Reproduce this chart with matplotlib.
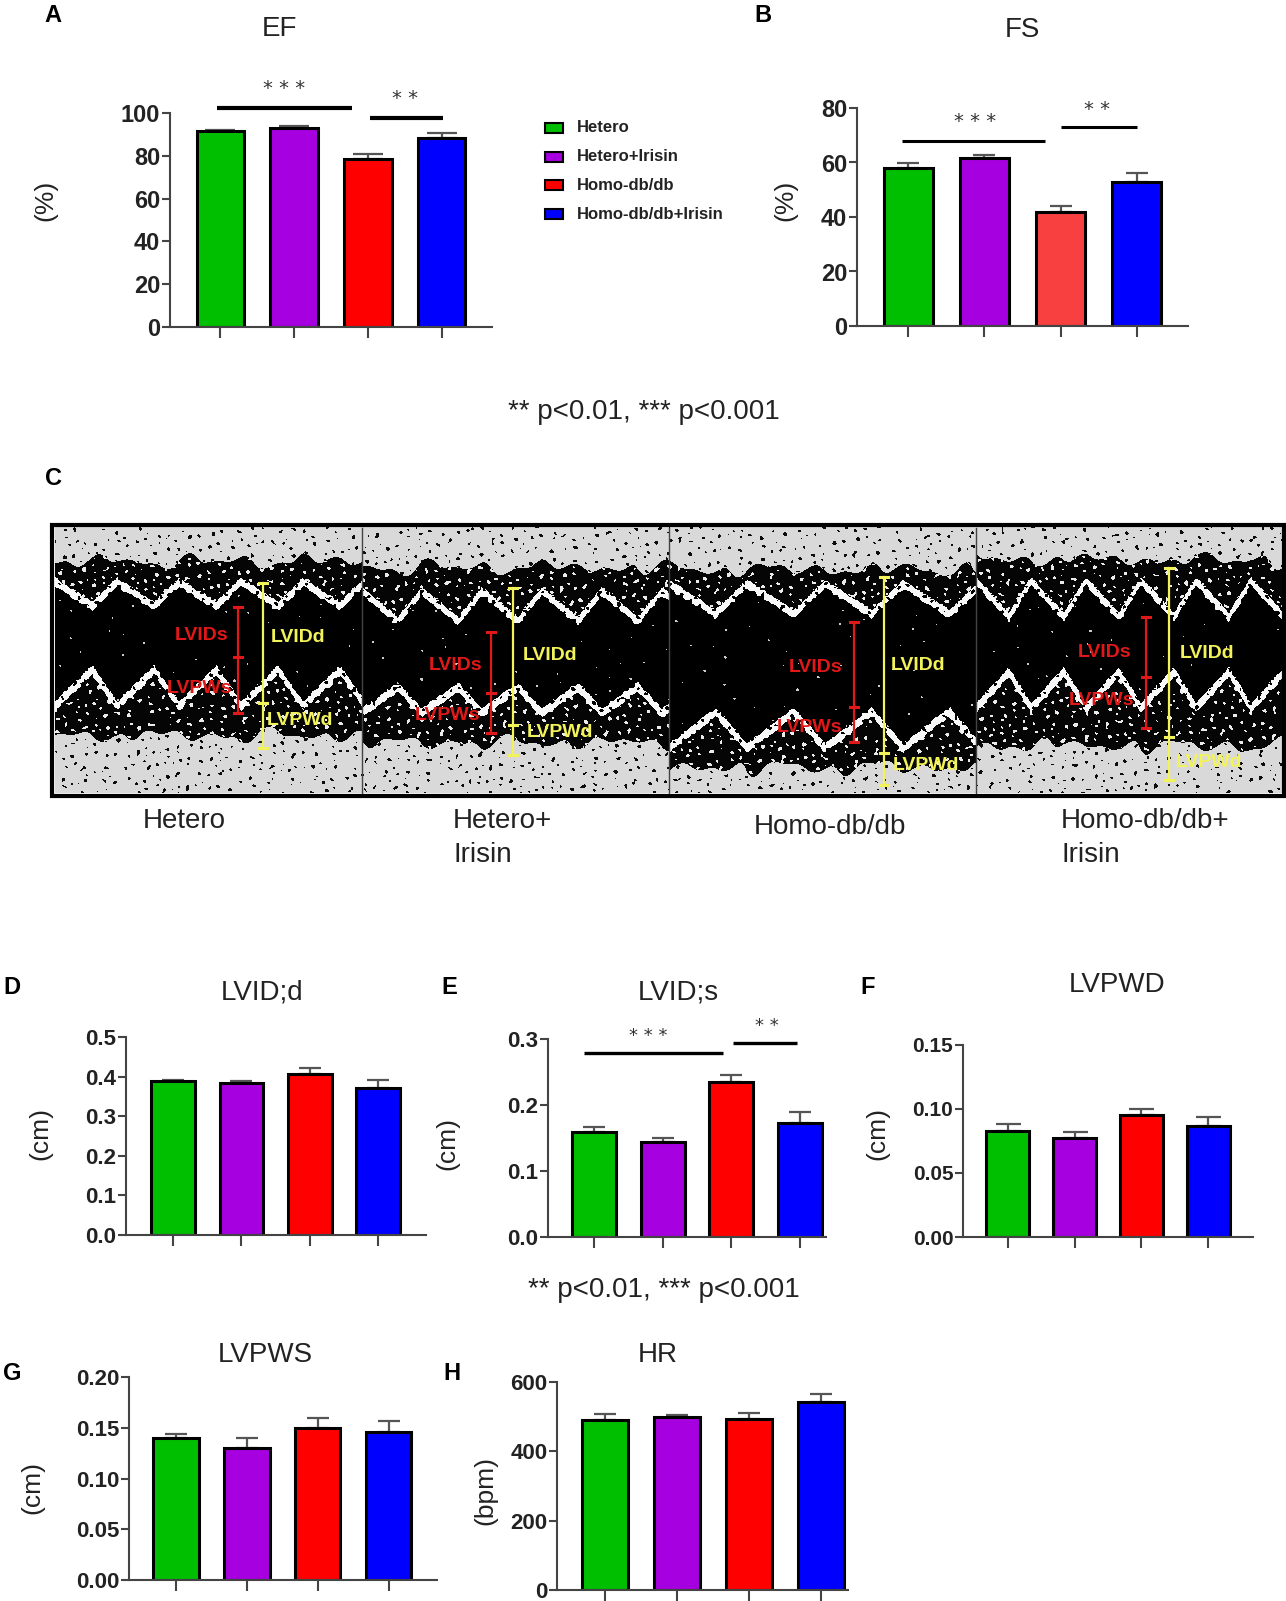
import numpy as np
import matplotlib
matplotlib.use("Agg")
import matplotlib.pyplot as plt
from matplotlib import font_manager as fm
from matplotlib.patches import Rectangle

# groups and colours
groups = ["Hetero", "Hetero+Irisin", "Homo-db/db", "Homo-db/db+Irisin"]
bar_colors = ["#00bf00", "#a600e0", "#ff0000", "#0000ff"]
fs_colors = ["#00bf00", "#a600e0", "#f84040", "#0000ff"]

# mean and sem
ef_mean = [91.5, 93.0, 78.5, 88.5]
ef_sem = [0.7, 0.8, 2.3, 2.0]
fs_mean = [58.0, 61.5, 42.0, 53.0]
fs_sem = [1.8, 1.2, 2.2, 3.0]
lvidd_mean = [0.388, 0.385, 0.407, 0.371]
lvidd_sem = [0.004, 0.003, 0.015, 0.020]
lvids_mean = [0.159, 0.144, 0.235, 0.172]
lvids_sem = [0.007, 0.006, 0.011, 0.018]
lvpwd_mean = [0.083, 0.077, 0.095, 0.087]
lvpwd_sem = [0.005, 0.005, 0.005, 0.007]
lvpws_mean = [0.140, 0.130, 0.150, 0.146]
lvpws_sem = [0.004, 0.010, 0.010, 0.011]
hr_mean = [490, 498, 493, 543]
hr_sem = [18, 7, 19, 22]

pnote = "** p<0.01, *** p<0.001"
echo_labels = [["Hetero"], ["Hetero+", "Irisin"], ["Homo-db/db"], ["Homo-db/db+", "Irisin"]]

W, H = 1286, 1601
fig = plt.figure(figsize=(W / 100, H / 100), dpi=100)


def has_font(name):
    try:
        fm.findfont(fm.FontProperties(family=name), fallback_to_default=False)
        return True
    except Exception:
        return False


SANS = "Liberation Sans" if has_font("Liberation Sans") else "DejaVu Sans"
NARROW = "Liberation Sans Narrow" if has_font("Liberation Sans Narrow") else SANS
TXT = "#222222"


def fx(x):
    return x / W


def fy(y):
    return 1 - y / H


def add_ax(left, right, top, bottom):
    return fig.add_axes([fx(left), fy(bottom), (right - left) / W, (bottom - top) / H])


def ftext(x, y, s, **kw):
    kw.setdefault("family", SANS)
    kw.setdefault("color", TXT)
    kw.setdefault("ha", "center")
    kw.setdefault("va", "center")
    fig.text(fx(x), fy(y), s, **kw)


def bar_panel(box, xlim, means, sems, cols, yticks, fmt, tick_size=15, cap=8):
    ax = add_ax(*box)
    x = np.arange(len(means))
    ax.errorbar(x, means, yerr=[np.zeros(len(sems)), sems], fmt="none",
                ecolor="#555555", elinewidth=1.6, capsize=cap, capthick=1.6, zorder=1)
    ax.bar(x, means, width=0.64, color=cols, edgecolor="black", linewidth=2.2, zorder=2)
    ax.set_xlim(*xlim)
    ax.set_ylim(yticks[0], yticks[-1])
    ax.set_yticks(yticks)
    ax.set_yticklabels([fmt.format(v) for v in yticks], family=SANS,
                       fontweight="bold", fontsize=tick_size, color=TXT)
    ax.set_xticks(x)
    ax.set_xticklabels([])
    ax.tick_params(axis="y", length=6, width=1.5, color="#444444", pad=1)
    ax.tick_params(axis="x", length=8, width=1.5, color="#444444")
    for s in ["top", "right"]:
        ax.spines[s].set_visible(False)
    for s in ["left", "bottom"]:
        ax.spines[s].set_linewidth(1.5)
        ax.spines[s].set_color("#444444")
    ax.patch.set_alpha(0)
    return ax


def sig(ax, x0, x1, y, lw, stars, sx, sy, size=14):
    ax.plot([x0, x1], [y, y], color="black", lw=lw, clip_on=False, solid_capstyle="butt")
    ax.text(sx, sy, stars, ha="center", va="center", fontsize=size, color="#333333",
            clip_on=False, family="DejaVu Sans")


# ---- A: EF
axA = bar_panel((170, 492, 113, 327), (-0.68, 3.68), ef_mean, ef_sem, bar_colors,
                [0, 20, 40, 60, 80, 100], "{:d}", tick_size=17, cap=11)
sig(axA, -0.05, 1.79, 102.3, 3.0, "* * *", 0.87, 111.5)
sig(axA, 2.03, 3.02, 97.7, 3.0, "* *", 2.5, 107)

# legend
for i, (g, c) in enumerate(zip(groups, bar_colors)):
    yc = 128 + i * 28.7
    fig.add_artist(Rectangle((fx(545), fy(yc + 5)), 18 / W, 10 / H, transform=fig.transFigure,
                             facecolor=c, edgecolor="black", lw=1.5))
    ftext(577, yc, g, ha="left", fontsize=12, fontweight="bold")

# ---- B: FS
axB = bar_panel((857, 1188, 108, 326), (-0.67, 3.67), fs_mean, fs_sem, fs_colors,
                [0, 20, 40, 60, 80], "{:d}", tick_size=17, cap=8)
sig(axB, -0.08, 1.8, 68, 2.2, "* * *", 0.88, 75)
sig(axB, 2.0, 3.0, 73, 2.2, "* *", 2.48, 79.5)

# ---- D..H
bar_panel((126, 426, 1037, 1235), (-0.69, 3.70), lvidd_mean, lvidd_sem, bar_colors,
          [0.0, 0.1, 0.2, 0.3, 0.4, 0.5], "{:.1f}", tick_size=16, cap=8)
axE = bar_panel((548, 826, 1039, 1237), (-0.67, 3.38), lvids_mean, lvids_sem, bar_colors,
                [0.0, 0.1, 0.2, 0.3], "{:.1f}", tick_size=16, cap=8)
sig(axE, -0.15, 1.88, 0.279, 2.4, "* * *", 0.79, 0.305, size=13)
sig(axE, 2.03, 2.96, 0.294, 2.4, "* *", 2.52, 0.319, size=13)
bar_panel((963, 1253, 1045, 1237), (-0.67, 3.67), lvpwd_mean, lvpwd_sem, bar_colors,
          [0.00, 0.05, 0.10, 0.15], "{:.2f}", tick_size=15, cap=9)
bar_panel((129, 437, 1377, 1580), (-0.66, 3.68), lvpws_mean, lvpws_sem, bar_colors,
          [0.00, 0.05, 0.10, 0.15, 0.20], "{:.2f}", tick_size=16, cap=8)
bar_panel((557, 848, 1382, 1590), (-0.67, 3.38), hr_mean, hr_sem, bar_colors,
          [0, 200, 400, 600], "{:d}", tick_size=16, cap=8)

# titles, letters, axis labels
for t, x, y in [("EF", 279, 29), ("FS", 1022, 30), ("LVID;d", 262, 992), ("LVID;s", 678, 992),
                ("LVPWD", 1117, 985), ("LVPWS", 265, 1355), ("HR", 658, 1355)]:
    ftext(x, y, t, fontsize=20)
for t, x, y in [("A", 53, 15), ("B", 763, 15), ("C", 53, 478), ("D", 12, 987), ("E", 449, 987),
                ("F", 868, 987), ("G", 12, 1373), ("H", 452, 1373)]:
    ftext(x, y, t, fontsize=17, fontweight="bold", color="black")
for t, x, y in [("(%)", 45, 200), ("(%)", 785, 200), ("(cm)", 40, 1133), ("(cm)", 447, 1143),
                ("(cm)", 877, 1133), ("(cm)", 32, 1487), ("(bpm)", 485, 1490)]:
    ftext(x, y, t, fontsize=19, rotation=90)
ftext(644, 412, pnote, fontsize=20)
ftext(664, 1290, pnote, fontsize=20)

# ---- C: M-mode echo picture (drawn texture, not data)
axC = add_ax(48, 1286, 521, 800)
axC.set_xlim(48, 1286)
axC.set_ylim(800, 521)
axC.axis("off")

xs = np.arange(55, 1282) + 0.5
ys = np.arange(528, 793) + 0.5
X, Y = np.meshgrid(xs, ys)
# speckle texture from many crossed waves
ang = [0.3, 1.1, 1.9, 2.6, 0.7, 2.2, 1.5, 2.9, 0.05, 1.35]
wav = [7.1, 9.3, 6.2, 11.7, 8.4, 5.6, 13.2, 7.9, 10.4, 6.7]
pha = [0.0, 1.3, 2.1, 0.4, 3.0, 1.7, 2.6, 0.9, 1.1, 2.4]
t1 = np.zeros(X.shape)
for a, wv, p in zip(ang, wav, pha):
    t1 += np.cos(2 * np.pi / wv * (X * np.cos(a) + Y * np.sin(a)) + p)
t1 /= len(ang)
t2 = (np.sin(0.13 * X + 0.07 * Y) + np.sin(0.057 * X - 0.11 * Y + 1) + np.sin(0.21 * X + 0.03 * Y + 2)) / 3
img = np.full(X.shape, 0.85)
img[t1 > 0.36] = 0.05

# x0, x1, period, upper line, amp, lower line, amp, top of wall, bottom of wall
segs = [(55, 362, 62, 595, 12, 688, 18, 560, 738),
        (362, 669, 60, 607, 15, 700, 13, 566, 745),
        (669, 976, 78, 600, 15, 730, 18, 568, 770),
        (976, 1282, 55, 600, 18, 690, 18, 558, 748)]
for x0, x1, per, cu, au, cl, al, top, bot in segs:
    m = (X >= x0) & (X < x1)
    ph = ((X - x0) / per) % 1.0
    w = np.where(ph < 0.6, ph / 0.6, (1 - ph) / 0.4)
    u = cu + au * (2 * w - 1)
    lo = cl - al * (2 * w - 1)
    jag = 9 * t2
    wall = m & (Y + jag > top + 5 * w) & (Y - jag < bot - 5 * w)
    img[wall] = np.where(t1[wall] > 0.32, 0.92, 0.02)
    cav = m & (Y > u) & (Y < lo)
    img[cav] = np.where(t1[cav] > 0.6, 0.8, 0.0)
    wl = m & ((np.abs(Y - u - 4 * t1) < 4) | (np.abs(Y - lo - 4 * t1) < 4.5)) & (t1 > -0.3)
    img[wl] = 0.97

axC.imshow(img, cmap="gray", vmin=0, vmax=1, extent=(55, 1282, 793, 528),
           interpolation="nearest", aspect="auto", zorder=1)
for xd in [362, 669, 976]:
    axC.plot([xd, xd], [528, 793], color="#444444", lw=1, zorder=2)
axC.add_patch(Rectangle((52, 525), 1232, 271, fill=False, edgecolor="black", lw=3, zorder=3))

RED = "#e01818"
YEL = "#f2f25a"
# colour, x, top, middle, bottom
marks = [(RED, 238, 607, 657, 713), (YEL, 263, 583, 703, 748),
         (RED, 491, 632, 693, 733), (YEL, 513, 588, 725, 755),
         (RED, 854, 622, 707, 742), (YEL, 884, 577, 753, 785),
         (RED, 1146, 617, 677, 728), (YEL, 1169, 568, 737, 780)]
for c, x, y0, y1, y2 in marks:
    axC.plot([x, x], [y0, y2], color=c, lw=1.6, zorder=4)
    for yy in (y0, y1, y2):
        axC.plot([x - 4, x + 4], [yy, yy], color=c, lw=2.2, zorder=4)

tags = [("LVIDs", RED, 202, 635), ("LVPWs", RED, 200, 688), ("LVIDd", YEL, 298, 637), ("LVPWd", YEL, 300, 720),
        ("LVIDs", RED, 456, 665), ("LVPWs", RED, 448, 715), ("LVIDd", YEL, 550, 655), ("LVPWd", YEL, 560, 732),
        ("LVIDs", RED, 816, 667), ("LVPWs", RED, 809, 727), ("LVIDd", YEL, 918, 665), ("LVPWd", YEL, 926, 765),
        ("LVIDs", RED, 1105, 652), ("LVPWs", RED, 1101, 700), ("LVIDd", YEL, 1207, 653), ("LVPWd", YEL, 1209, 762)]
for t, c, x, y in tags:
    axC.text(x, y, t, color=c, fontsize=14, fontweight="bold", family=NARROW,
             ha="center", va="center", zorder=5)

for lines, x in zip(echo_labels, [143, 453, 754, 1061]):
    if len(lines) == 1:
        ftext(x, 827 if x > 700 else 821, lines[0], fontsize=20, ha="left")
    else:
        ftext(x, 821, lines[0], fontsize=20, ha="left")
        ftext(x, 855, lines[1], fontsize=20, ha="left")

fig.savefig("out.png", dpi=100)
